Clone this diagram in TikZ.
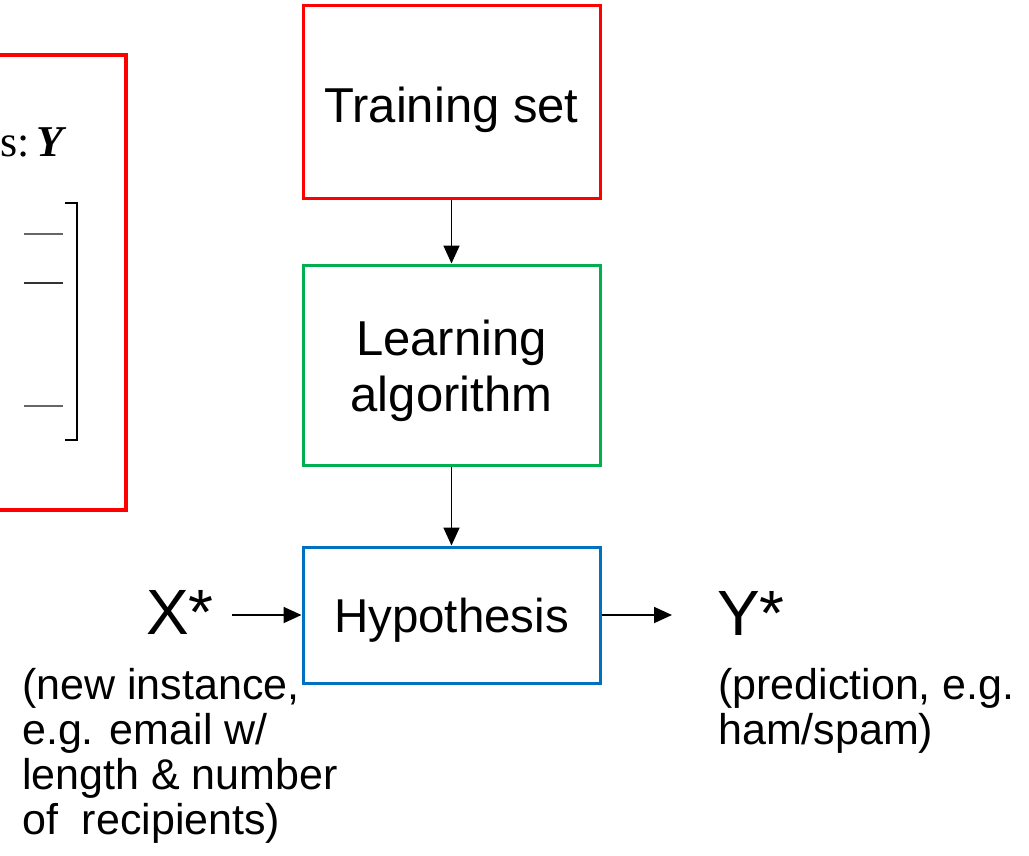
\documentclass[tikz,border=0pt]{standalone}
\usepackage{fontspec}
\setmainfont{Liberation Sans}
\newfontfamily\serfont{Liberation Serif}
\usetikzlibrary{arrows.meta}
\definecolor{boxred}{RGB}{255,0,0}
\definecolor{boxgreen}{RGB}{0,176,80}
\definecolor{boxblue}{RGB}{0,112,192}
\tikzset{
  flowbox/.style={draw, line width=3pt, minimum width=297pt, inner sep=0pt, align=center, font=\fontsize{49}{56}\selectfont},
  conn/.style={line width=1.8pt, -{Triangle[length=18pt,width=16pt]}},
  bigtxt/.style={font=\fontsize{64}{70}\selectfont, inner sep=0pt},
  notetxt/.style={font=\fontsize{43}{45}\selectfont, align=left, inner sep=0pt},
}
\begin{document}
\begin{tikzpicture}[x=1pt,y=-1pt]
\useasboundingbox (0,0) rectangle (1029,855);
% left partial box
\draw[boxred, line width=4pt] (-20,55) -- (126,55) -- (126,510) -- (-20,510);
\node[anchor=base west, inner sep=0pt, font=\fontsize{44}{48}\selectfont] (ylab) at (0,156) {\serfont s:\hspace{7pt}\textbf{\textit{Y}}};
\draw[line width=1.8pt] (65,203) -- (77,203) -- (77,440) -- (65,440);
\draw[line width=1.6pt, black!60] (24,234) -- (63,234);
\draw[line width=1.6pt, black!80] (24,283) -- (63,283);
\draw[line width=1.6pt, black!60] (24,406) -- (63,406);
% flow boxes
\node[flowbox, draw=boxred, minimum height=193pt, text height=41pt, text depth=0pt] (ts) at (451.5,101.5) {Training set};
\node[flowbox, draw=boxgreen, minimum height=200pt] (la) at (451.5,365) {};
\node[align=center, inner sep=0pt, font=\fontsize{49}{56}\selectfont] (latext) at ([yshift=-6pt]la.center) {Learning\\algorithm};
\node[flowbox, draw=boxblue, minimum height=136pt, text height=34pt, text depth=0pt, font=\fontsize{47.5}{54}\selectfont] (hy) at (451.5,615) {Hypothesis};
\draw[conn] (ts) -- (la);
\draw[conn] (la) -- (hy);
\node[bigtxt, anchor=base west] (xs) at (146,634) {X*};
\node[bigtxt, anchor=base west] (ys) at (717,635) {Y*};
\coordinate (xa) at (232,615);
\draw[conn] (xa) -- (hy.west);
\coordinate (yend) at (672,615);
\draw[conn] (hy.east) -- (yend);
\node[notetxt, anchor=north west] (xnote) at (22,668) {(new instance,\\e.g. email w/\\length \& number\\of\ \ recipients)};
\node[notetxt, anchor=north west] (ynote) at (718,668) {(prediction, e.g.\\ham/spam)};
\end{tikzpicture}
\end{document}
